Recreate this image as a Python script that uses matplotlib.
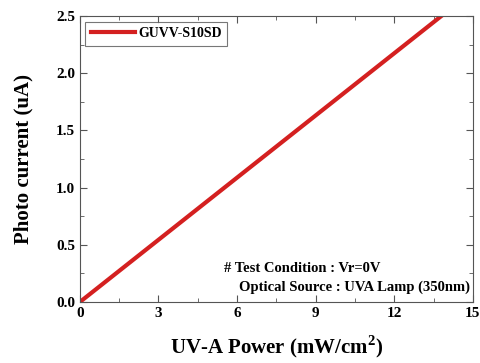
import matplotlib
matplotlib.use("Agg")
import matplotlib.pyplot as plt
from matplotlib.ticker import MultipleLocator

# UV-A power vs photo current for GUVV-S10SD
power = [0, 13.8]
current = [0, 2.5]
label = "GUVV-S10SD"

plt.rcParams["font.family"] = "Liberation Serif"
plt.rcParams["font.weight"] = "bold"
plt.rcParams["mathtext.fontset"] = "custom"
plt.rcParams["mathtext.rm"] = "Liberation Serif:bold"
plt.rcParams["mathtext.bf"] = "Liberation Serif:bold"

fig = plt.figure(figsize=(4.81, 3.63), dpi=100)
ax = fig.add_axes([0.166, 0.168, 0.817, 0.788])

ax.plot(power, current, color="#d42020", lw=3, label=label)

ax.set_xlim(0, 15)
ax.set_ylim(0, 2.5)
ax.xaxis.set_major_locator(MultipleLocator(3))
ax.xaxis.set_minor_locator(MultipleLocator(1.5))
ax.yaxis.set_major_locator(MultipleLocator(0.5))
ax.yaxis.set_minor_locator(MultipleLocator(0.25))
ax.yaxis.set_major_formatter(plt.FormatStrFormatter("%.1f"))
ax.tick_params(which="both", direction="in", top=True, right=True, labelsize=11, color="#555555")
ax.tick_params(which="major", length=5)
ax.tick_params(which="minor", length=3)
for s in ax.spines.values():
    s.set_color("#555555")

ax.set_xlabel("UV-A Power (mW/cm$^\\mathbf{2}$)", fontsize=15, fontweight="bold", labelpad=10)
ax.set_ylabel("Photo current (uA)", fontsize=15, fontweight="bold", labelpad=16)

leg = ax.legend(loc="upper left", fontsize=10, fancybox=False, edgecolor="#555555",
                handlelength=3.2, handletextpad=0.2, borderaxespad=0.4)
leg.get_frame().set_linewidth(0.8)

ax.text(0.367, 0.105, "# Test Condition : Vr=0V", transform=ax.transAxes,
        fontsize=10.5, fontweight="bold", ha="left")
ax.text(0.405, 0.04, "Optical Source : UVA Lamp (350nm)", transform=ax.transAxes,
        fontsize=10.5, fontweight="bold", ha="left")

fig.savefig("out.png", dpi=100)
